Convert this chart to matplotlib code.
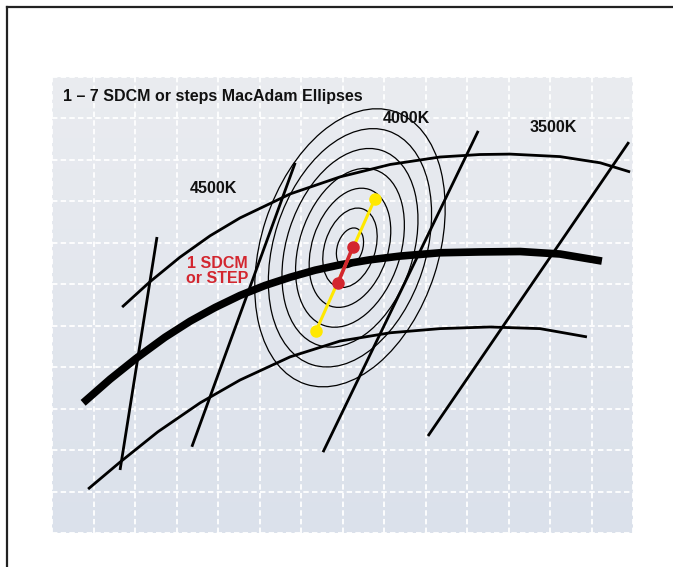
import numpy as np
import matplotlib
matplotlib.use("Agg")
import matplotlib.pyplot as plt
from matplotlib.patches import Ellipse
from matplotlib.lines import Line2D
from matplotlib.colors import LinearSegmentedColormap

plt.rcParams['font.family'] = ['Liberation Sans', 'DejaVu Sans']

# ---------------- data (grid units: 14 x 11 cells) ----------------
locus_x = [0.75, 1.40, 2.05, 2.72, 3.33, 3.93, 4.53, 5.13, 5.74, 6.34, 6.94,
           7.66, 8.39, 9.35, 10.31, 11.28, 12.24, 13.25]
locus_y = [3.14, 3.71, 4.23, 4.72, 5.11, 5.44, 5.73, 5.97, 6.17, 6.34, 6.47,
           6.59, 6.68, 6.76, 6.78, 6.79, 6.73, 6.56]

upper_x = [1.69, 2.36, 3.08, 3.81, 4.53, 5.74, 6.94, 8.15, 9.35, 10.31,
           11.04, 12.24, 13.21, 13.93]
upper_y = [5.45, 6.06, 6.65, 7.17, 7.60, 8.18, 8.59, 8.89, 9.07, 9.13,
           9.14, 9.08, 8.93, 8.71]

lower_x = [0.87, 1.64, 2.55, 3.57, 4.53, 5.74, 6.94, 8.15, 9.35, 10.55,
           11.76, 12.89]
lower_y = [1.06, 1.71, 2.44, 3.14, 3.69, 4.25, 4.63, 4.83, 4.93, 4.97,
           4.93, 4.73]

# isotherms: (x_top, y_top, x_bottom, y_bottom)
isotherms = [
    (2.53, 7.14, 1.64, 1.52),
    (5.86, 8.93, 3.37, 2.08),
    (10.27, 9.70, 6.53, 1.95),
    (13.90, 9.43, 9.06, 2.34),
]

cct_labels = ["4500K", "4000K", "3500K"]
cct_label_x = [3.90, 8.54, 12.09]
cct_label_y = [8.32, 10.0, 9.77]

ellipse_center = (7.18, 6.88)
ellipse_steps = [1, 2, 3, 4, 5, 6, 7]
step_a = 0.494   # semi-major per step
step_b = 0.305   # semi-minor per step
ellipse_angle = 72

yellow_x = [6.36, 7.78]
yellow_y = [4.87, 8.06]
red_x = [6.89, 7.25]
red_y = [6.03, 6.90]

# ---------------- figure ----------------
fig = plt.figure(figsize=(6.73, 5.67), dpi=100)
ax = fig.add_axes([52 / 673, 34 / 567, 581 / 673, 456 / 567])
ax.set_xlim(0, 14)
ax.set_ylim(0, 11)
ax.axis('off')

# background gradient
cmap = LinearSegmentedColormap.from_list("bg", ["#dbe1eb", "#eaecf0"])
grad = np.linspace(0, 1, 256)[:, None]
ax.imshow(grad, extent=(0, 14, 0, 11), origin='lower', aspect='auto',
          cmap=cmap, zorder=0)

# dashed white grid
for gx in range(15):
    ax.plot([gx, gx], [0, 11], color='white', lw=1.3,
            linestyle=(0, (3.0, 1.8)), clip_on=False, zorder=1)
for gy in range(12):
    ax.plot([0, 14], [gy, gy], color='white', lw=1.3,
            linestyle=(0, (3.0, 1.8)), clip_on=False, zorder=1)

# ellipses
for n in ellipse_steps:
    e = Ellipse(ellipse_center, 2 * step_a * n, 2 * step_b * n,
                angle=ellipse_angle, fill=False, ec='black', lw=0.9, zorder=3)
    ax.add_patch(e)

# arcs and locus
ax.plot(upper_x, upper_y, color='black', lw=2.0, solid_capstyle='butt',
        solid_joinstyle='round', zorder=4)
ax.plot(lower_x, lower_y, color='black', lw=2.0, solid_capstyle='butt',
        solid_joinstyle='round', zorder=4)
for x0, y0, x1, y1 in isotherms:
    ax.plot([x0, x1], [y0, y1], color='black', lw=2.0,
            solid_capstyle='butt', zorder=4)
ax.plot(locus_x, locus_y, color='black', lw=5.5, solid_capstyle='butt',
        solid_joinstyle='round', zorder=5)

# step markers
ax.plot(yellow_x, yellow_y, color='#ffe800', lw=2.2, zorder=6)
ax.plot(yellow_x, yellow_y, 'o', color='#ffe800', ms=8, zorder=7)
ax.plot(red_x, red_y, color='#d3262f', lw=2.6, zorder=8)
ax.plot(red_x, red_y, 'o', color='#d3262f', ms=8, zorder=9)

# text
ax.text(0.265, 10.52, "1 – 7 SDCM or steps MacAdam Ellipses", fontsize=11.5,
        fontweight='bold', ha='left', va='center', color='#111111', zorder=10)
for lab, lx, ly in zip(cct_labels, cct_label_x, cct_label_y):
    ax.text(lx, ly, lab, fontsize=11.5, fontweight='bold', ha='center',
            va='center', color='#111111', zorder=10)
ax.text(3.98, 6.32, "1 SDCM\nor STEP", fontsize=11.5, fontweight='bold',
        color='#d3262f', ha='center', va='center', multialignment='center',
        linespacing=1.05, zorder=10)

# outer frame (left and top edges)
fig.add_artist(Line2D([7 / 673, 7 / 673], [0, 1 - 7 / 567], color='#222222', lw=1.6))
fig.add_artist(Line2D([7 / 673, 672 / 673], [1 - 7 / 567, 1 - 7 / 567],
                      color='#222222', lw=1.6))

fig.savefig("out.png", dpi=100)
